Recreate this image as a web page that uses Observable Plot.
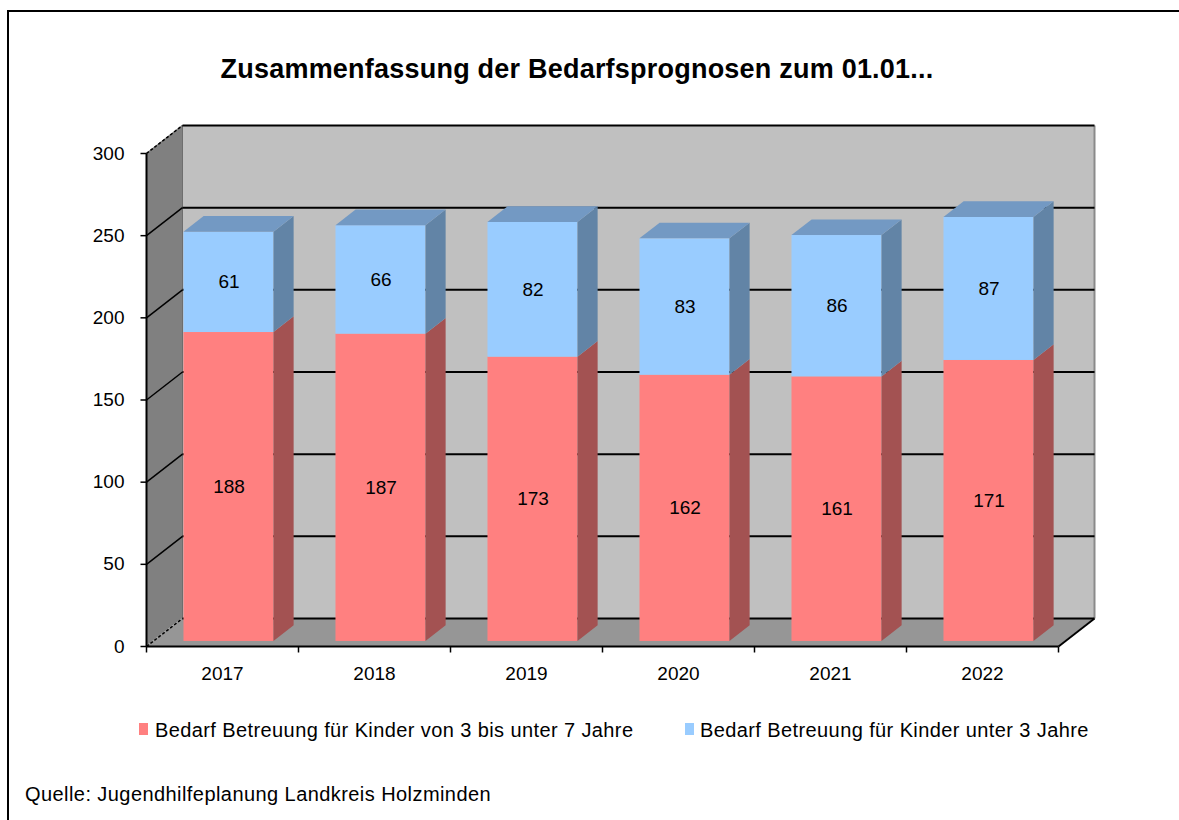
<!DOCTYPE html>
<html>
<head>
<meta charset="utf-8">
<script src="https://cdn.jsdelivr.net/npm/d3@7"></script>
<script src="https://cdn.jsdelivr.net/npm/@observablehq/plot@0.6"></script>
<style>
  html, body { margin: 0; padding: 0; background: #fff; }
  #page { position: relative; width: 1179px; height: 820px; overflow: hidden; font-family: "Liberation Sans", Arial, sans-serif; color: #000; }
  #frame { position: absolute; left: 7px; top: 10px; width: 1300px; height: 900px; border-left: 2px solid #000; border-top: 2px solid #000; }
  #title { position: absolute; left: 0; width: 1154px; top: 55px; text-align: center; font-weight: bold; font-size: 27px; line-height: 28px; letter-spacing: 0.22px; }
  #chart { position: absolute; left: 0; top: 100px; }
  .leg { position: absolute; top: 720px; font-size: 20px; line-height: 20px; white-space: nowrap; letter-spacing: 0.4px; }
  .sw { position: absolute; width: 9px; height: 12px; top: 723px; }
  #caption { position: absolute; left: 25px; top: 784px; font-size: 20px; line-height: 20px; white-space: nowrap; letter-spacing: 0.43px; }
</style>
</head>
<body>
<div id="page">
  <div id="frame"></div>
  <div id="title">Zusammenfassung der Bedarfsprognosen zum 01.01...</div>
  <div id="chart"></div>
  <div class="sw" id="sw1" style="left:139px;"></div>
  <div class="leg" id="leg1" style="left:155px;"></div>
  <div class="sw" id="sw2" style="left:685px;"></div>
  <div class="leg" id="leg2" style="left:700px;"></div>
  <div id="caption">Quelle: Jugendhilfeplanung Landkreis Holzminden</div>
</div>
<script>
// ---- data ----
const years = ["2017", "2018", "2019", "2020", "2021", "2022"];
const older = [188, 187, 173, 162, 161, 171];   // Kinder von 3 bis unter 7 Jahre
const younger = [61, 66, 82, 83, 86, 87];       // Kinder unter 3 Jahre
const yTicks = [0, 50, 100, 150, 200, 250, 300];
const seriesNames = ["Bedarf Betreuung für Kinder von 3 bis unter 7 Jahre", "Bedarf Betreuung für Kinder unter 3 Jahre"];

// ---- styles ----
const front = ["#FF8080", "#99CCFF"];
const side = ["#A35252", "#6284A6"];
const topC = "#7399C3";

document.getElementById("sw1").style.background = front[0];
document.getElementById("sw2").style.background = front[1];
document.getElementById("leg1").textContent = seriesNames[0];
document.getElementById("leg2").textContent = seriesNames[1];

// ---- layout (pixel geometry of the 3D frame) ----
const W = 1179, H = 600;
const mL = 146, mR = 121, mT = 53, mB = 54;
const n = years.length;
const pxX = n / (W - mL - mR);       // data units per px horizontally
const pxY = 300 / (H - mT - mB);     // data units per px vertically
const DX = 36 * pxX, DY = 28 * pxY;  // floor depth
const f0 = 0.18, f1 = 0.74;          // bar front/back depth fraction
const BW = 90 / 152;                 // bar width in band units

const segs = [];
years.forEach((yr, i) => {
  const x1 = i + (1 - BW) / 2 + f0 * DX;
  const x2 = x1 + BW;
  const vals = [older[i], younger[i]];
  let base = 0;
  vals.forEach((v, s) => {
    segs.push({id: i * 2 + s, s, x1, x2, b: base, t: base + v, v});
    base += v;
  });
});
const z0 = f0 * DY, z1 = f1 * DY, ddx = (f1 - f0) * DX;

const sidePts = segs.flatMap(d => [
  {id: d.id, c: side[d.s], x: d.x2, y1: d.b + z0, y2: d.t + z0},
  {id: d.id, c: side[d.s], x: d.x2 + ddx, y1: d.b + z1, y2: d.t + z1}
]);
const topPts = segs.filter(d => d.s === 1).flatMap(d => [
  {id: d.id, x: d.x1, y1: d.t + z0, y2: d.t + z0},
  {id: d.id, x: d.x1 + ddx, y1: d.t + z0, y2: d.t + z1},
  {id: d.id, x: d.x2, y1: d.t + z0, y2: d.t + z1},
  {id: d.id, x: d.x2 + ddx, y1: d.t + z1, y2: d.t + z1}
]);

const leftWall = [{x: 0, y1: 0, y2: 300}, {x: DX, y1: DY, y2: 300 + DY}];
const floor = [{x: 0, y1: 0, y2: 0}, {x: DX, y1: 0, y2: DY}, {x: n, y1: 0, y2: DY}, {x: n + DX, y1: DY, y2: DY}];
const inner = yTicks.filter(v => v > 0 && v < 300);
const edges = yTicks.filter(v => v === 0 || v === 300);
const catEdges = d3.range(n + 1);

const chart = Plot.plot({
  width: W, height: H,
  marginLeft: mL, marginRight: mR, marginTop: mT, marginBottom: mB,
  x: {type: "linear", domain: [0, n], axis: null},
  y: {type: "linear", domain: [0, 300], axis: null},
  color: {type: "identity"},
  style: {fontFamily: "'Liberation Sans', Arial, sans-serif", background: "transparent", overflow: "visible"},
  marks: [
    // walls
    Plot.areaY(leftWall, {x: "x", y1: "y1", y2: "y2", fill: "#808080"}),
    Plot.rect([0], {x1: DX, x2: n + DX, y1: DY, y2: 300 + DY, fill: "#C0C0C0"}),
    Plot.areaY(floor, {x: "x", y1: "y1", y2: "y2", fill: "#969696"}),
    Plot.link([0], {x1: DX, x2: DX, y1: DY, y2: 300 + DY, stroke: "#6e6e6e", strokeWidth: 1}),
    Plot.link([0], {x1: n + DX, x2: n + DX, y1: DY, y2: 300 + DY, stroke: "#8a8a8a", strokeWidth: 2}),
    // gridlines
    Plot.link(yTicks, {x1: DX, x2: n + DX, y1: d => d + DY, y2: d => d + DY, stroke: "#000", strokeWidth: 2}),
    Plot.link(inner, {x1: 0, x2: DX, y1: d => d, y2: d => d + DY, stroke: "#000", strokeWidth: 1.5}),
    Plot.link(edges, {x1: 0, x2: DX, y1: d => d, y2: d => d + DY, stroke: "#000", strokeWidth: 1.5, strokeDasharray: "3,2"}),
    Plot.link([0], {x1: n, x2: n + DX, y1: 0, y2: DY, stroke: "#000", strokeWidth: 2}),
    // front axes
    Plot.link([0], {x1: 0, x2: 0, y1: 0, y2: 300, stroke: "#000", strokeWidth: 2}),
    Plot.link([0], {x1: 0, x2: n, y1: 0, y2: 0, stroke: "#000", strokeWidth: 2}),
    Plot.link(yTicks, {x1: 0, x2: -6 * pxX, y1: d => d, y2: d => d, stroke: "#000", strokeWidth: 1.5}),
    Plot.link(catEdges, {x1: d => d, x2: d => d, y1: 0, y2: -6 * pxY, stroke: "#000", strokeWidth: 1.5}),
    Plot.text(yTicks, {x: 0, y: d => d, text: d => String(d), dx: -22, textAnchor: "end", fontSize: 19, fill: "#000"}),
    Plot.text(years, {x: (d, i) => i + 0.5, y: 0, text: d => d, dy: 27, fontSize: 19, fill: "#000"}),
    // bars
    Plot.rect(segs, {x1: "x1", x2: "x2", y1: d => d.b + z0, y2: d => d.t + z0, fill: d => front[d.s]}),
    Plot.areaY(sidePts, {x: "x", y1: "y1", y2: "y2", z: "id", fill: "c"}),
    Plot.areaY(topPts, {x: "x", y1: "y1", y2: "y2", z: "id", fill: topC}),
    Plot.text(segs, {x: d => (d.x1 + d.x2) / 2, y: d => (d.b + d.t) / 2 + z0, text: d => String(d.v), fontSize: 19, fill: "#000"})
  ]
});
document.getElementById("chart").appendChild(chart);
</script>
</body>
</html>
